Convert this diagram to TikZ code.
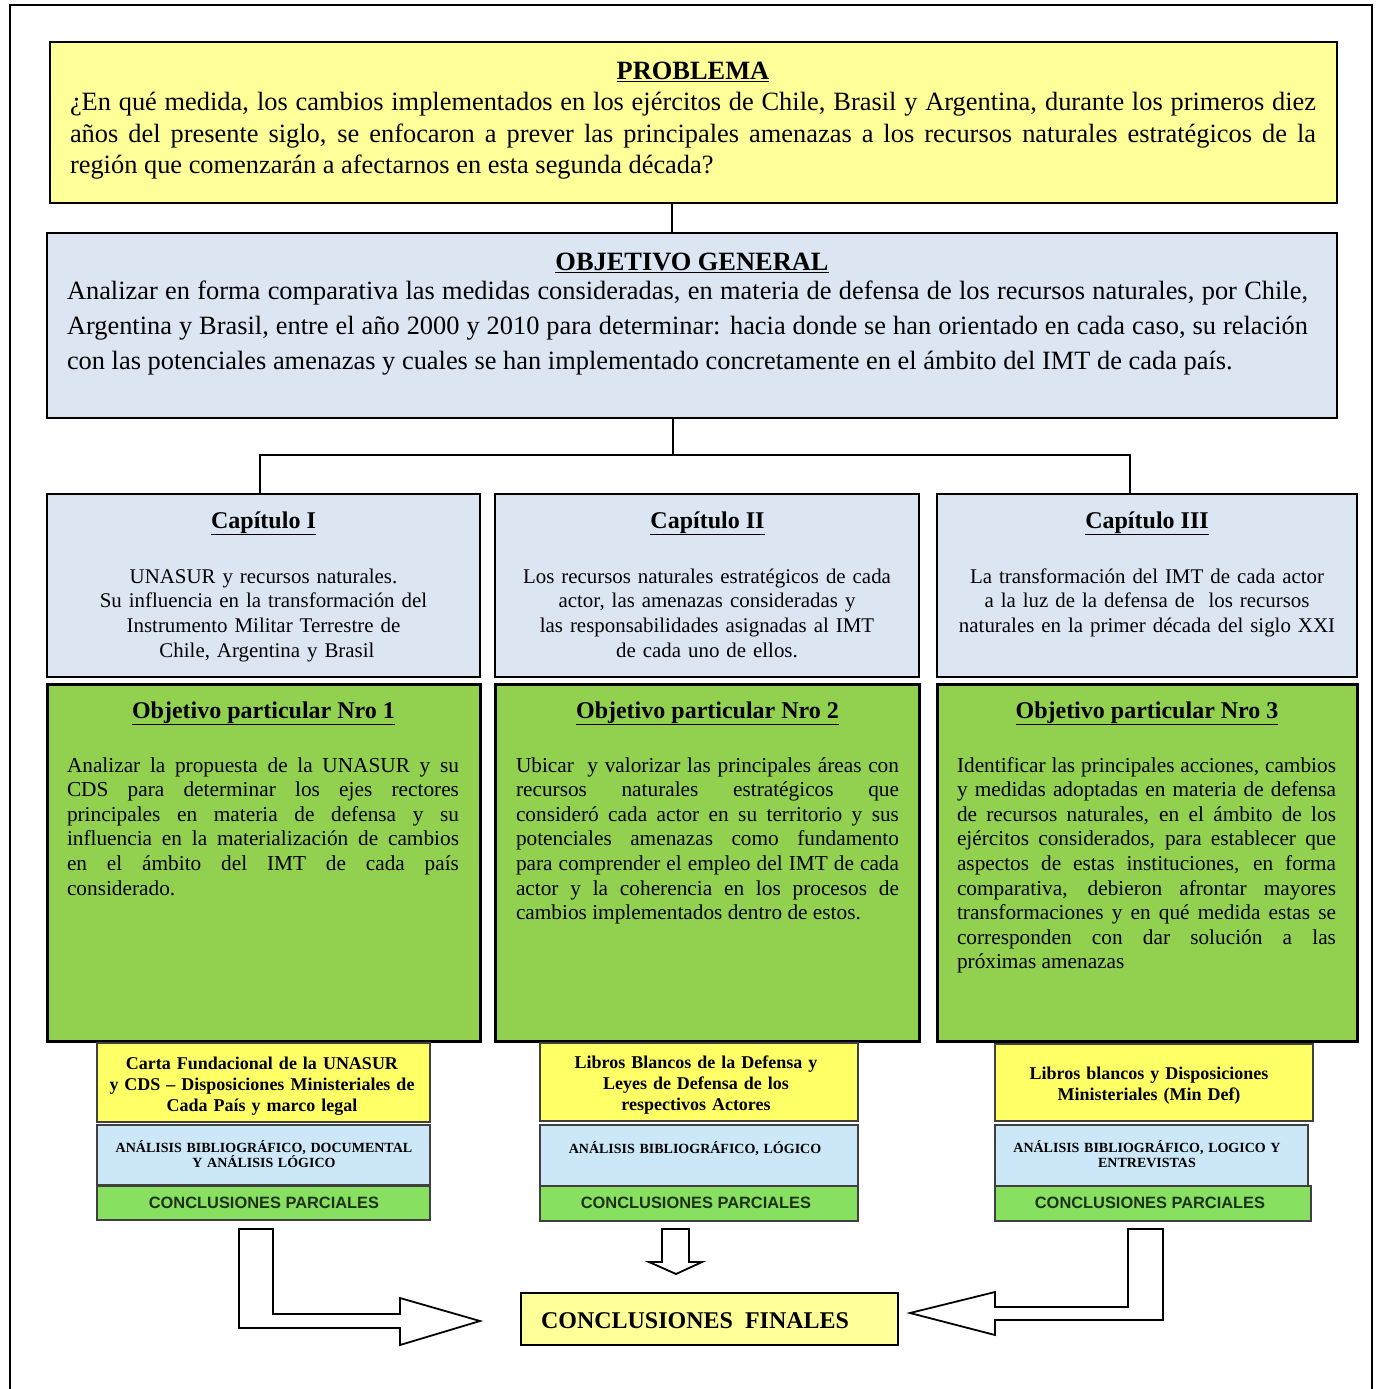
\documentclass[tikz,border=0pt]{standalone}
\usepackage{fontspec}
\setmainfont{Liberation Serif}
\newfontfamily\sansb{Liberation Sans}
\setlength{\parindent}{0pt}
\tolerance=10000
\hbadness=10000
\hfuzz=20pt
\definecolor{probY}{HTML}{FFFF99}
\definecolor{capB}{HTML}{DCE6F2}
\definecolor{objG}{HTML}{92D050}
\definecolor{smY}{HTML}{FFFF66}
\definecolor{smB}{HTML}{CCE8F8}
\definecolor{smG}{HTML}{88E060}
\definecolor{smEdge}{HTML}{404040}
\definecolor{cpText}{HTML}{1E321A}
\newcommand\mkbox[6]{\node[#6, minimum width={#4-#2}, minimum height={#5-#3}] (#1) at ({(#2+#4)/2},{(#3+#5)/2}) {};}
\begin{document}
\begin{tikzpicture}[x=1pt,y=-1pt,
  bigbox/.style={draw=black,line width=2pt,inner sep=0pt,outer sep=0pt},
  grbox/.style={draw=black,line width=3pt,fill=objG,inner sep=0pt,outer sep=0pt},
  smbox/.style={draw=smEdge,line width=1.5pt,inner sep=0pt,outer sep=0pt},
  tx/.style={inner sep=0pt,outer sep=0pt},
  conn/.style={draw=black,line width=2pt},
  barrow/.style={draw=black,line width=1.8pt,fill=white,line join=miter},
  bigtitle/.style={tx,anchor=base,font=\bfseries\fontsize{26.4}{32}\selectfont},
  captitle/.style={tx,anchor=base,font=\bfseries\fontsize{24}{28}\selectfont},
  capbody/.style={tx,anchor=base,text width=420,align=center,font=\fontsize{20.9}{24.8}\selectfont},
  objbody/.style={tx,anchor=base west,align=justify,font=\fontsize{21.3}{24.6}\selectfont},
  yltext/.style={tx,anchor=base,text width=330,align=center,font=\bfseries\fontsize{18}{21}\selectfont},
  bltext/.style={tx,anchor=base,text width=330,align=center,font=\bfseries\fontsize{14}{15.5}\selectfont},
  grtext/.style={tx,anchor=base,text=cpText,font=\sansb\bfseries\fontsize{16.4}{18}\selectfont}
]
\useasboundingbox (0,0) rectangle (1377,1389);
% outer frame
\draw[line width=2pt] (10,1389) -- (10,5) -- (1372,5) -- (1372,1389);

% PROBLEMA
\mkbox{prob}{50}{42}{1337}{203}{bigbox,fill=probY}
\node[bigtitle] (probT) at (693,80) {\underline{PROBLEMA}};
\node[tx,anchor=base west,text width=1246,align=justify,font=\fontsize{26.4}{31.7}\selectfont] (probB) at (70,110.5)
 {¿En qué medida, los cambios implementados en los ejércitos de Chile, Brasil y Argentina, durante los primeros diez\linebreak
  años del presente siglo, se enfocaron a prever las principales amenazas a los recursos naturales estratégicos de la\linebreak
  región que comenzarán a afectarnos en esta segunda década?};

% OBJETIVO GENERAL
\mkbox{objg}{47}{233}{1337}{418}{bigbox,fill=capB}
\node[bigtitle] (objgT) at (692,270) {\underline{OBJETIVO GENERAL}};
\node[tx,anchor=base west,text width=1241,align=justify,font=\fontsize{26.4}{35}\selectfont] (objgB) at (67,299)
 {Analizar en forma comparativa las medidas consideradas, en materia de defensa de los recursos naturales, por Chile,\linebreak
  Argentina y Brasil, entre el año 2000 y 2010 para determinar: hacia donde se han orientado en cada caso, su relación\linebreak
  con las potenciales amenazas y cuales se han implementado concretamente en el ámbito del IMT de cada país.};

% Chapters
\mkbox{cap1}{47}{494}{480}{677}{bigbox,fill=capB}
\mkbox{cap2}{495}{494}{919}{677}{bigbox,fill=capB}
\mkbox{cap3}{937}{494}{1357}{677}{bigbox,fill=capB}
\node[captitle] (cap1T) at (263.5,528) {\underline{Capítulo I}};
\node[captitle] (cap2T) at (707.5,528) {\underline{Capítulo II}};
\node[captitle] (cap3T) at (1147,528) {\underline{Capítulo III}};
\node[capbody] (cap1B) at (263.5,583) {UNASUR y recursos naturales.\\ Su influencia en la transformación del\\ Instrumento Militar Terrestre de\\ \ Chile, Argentina y Brasil};
\node[capbody] (cap2B) at (707,583) {Los recursos naturales estratégicos de cada\\ actor, las amenazas consideradas y\\ las responsabilidades asignadas al IMT\\ de cada uno de ellos.};
\node[capbody] (cap3B) at (1147,583) {La transformación del IMT de cada actor\\ a la luz de la defensa de\ \ los recursos\\ naturales en la primer década del siglo XXI};

% connectors
\draw[conn] (672,0 |- prob.south) -- (672,0 |- objg.north);
\draw[conn] (673,0 |- objg.south) -- (673,455);
\draw[conn] (260,0 |- cap1.north) -- (260,455) -- (1130,455) -- (1130,0 |- cap3.north);

% Objetivos particulares
\mkbox{obj1}{47}{684}{480}{1041}{grbox}
\mkbox{obj2}{495}{684}{919}{1041}{grbox}
\mkbox{obj3}{937}{684}{1357}{1041}{grbox}
\node[captitle] (obj1T) at (263.5,718) {\underline{Objetivo particular Nro 1}};
\node[captitle] (obj2T) at (707.5,718) {\underline{Objetivo particular Nro 2}};
\node[captitle] (obj3T) at (1147,718) {\underline{Objetivo particular Nro 3}};
\node[objbody,text width=392] (obj1B) at (67,772)
 {Analizar la propuesta de la UNASUR y su\linebreak
  CDS para determinar los ejes rectores\linebreak
  principales en materia de defensa y su\linebreak
  influencia en la materialización de cambios\linebreak
  en el ámbito del IMT de cada país\linebreak
  considerado.};
\node[objbody,text width=383] (obj2B) at (516,772)
 {Ubicar\ \ y valorizar las principales áreas con\linebreak
  recursos naturales estratégicos que\linebreak
  consideró cada actor en su territorio y sus\linebreak
  potenciales amenazas como fundamento\linebreak
  para comprender el empleo del IMT de cada\linebreak
  actor y la coherencia en los procesos de\linebreak
  cambios implementados dentro de estos.};
\node[objbody,text width=379] (obj3B) at (957,772)
 {Identificar las principales acciones, cambios\linebreak
  y medidas adoptadas en materia de defensa\linebreak
  de recursos naturales, en el ámbito de los\linebreak
  ejércitos considerados, para establecer que\linebreak
  aspectos de estas instituciones, en forma\linebreak
  comparativa, debieron afrontar mayores\linebreak
  transformaciones y en qué medida estas se\linebreak
  corresponden con dar solución a las\linebreak
  próximas amenazas};

% small boxes column 1
\mkbox{y1}{97}{1043}{430}{1122}{smbox,fill=smY}
\mkbox{b1}{97}{1125}{430}{1185}{smbox,fill=smB}
\mkbox{g1}{97}{1186}{430}{1220}{smbox,fill=smG}
\node[yltext] (y1T) at (262,1069) {Carta Fundacional de la UNASUR\\ y CDS – Disposiciones Ministeriales de\\ Cada País y marco legal};
\node[bltext] (b1T) at (264,1152) {ANÁLISIS BIBLIOGRÁFICO, DOCUMENTAL\\ Y ANÁLISIS LÓGICO};
\node[grtext] (g1T) at (264,1208) {CONCLUSIONES PARCIALES};

% column 2
\mkbox{y2}{540}{1043}{858}{1121}{smbox,fill=smY}
\mkbox{b2}{540}{1125}{858}{1186}{smbox,fill=smB}
\mkbox{g2}{540}{1186}{858}{1221}{smbox,fill=smG}
\node[yltext] (y2T) at (696,1068) {Libros Blancos de la Defensa y\\ Leyes de Defensa de los\\ respectivos Actores};
\node[bltext] (b2T) at (695,1153) {ANÁLISIS BIBLIOGRÁFICO, LÓGICO};
\node[grtext] (g2T) at (696,1208) {CONCLUSIONES PARCIALES};

% column 3
\mkbox{y3}{995}{1044}{1313}{1121}{smbox,fill=smY}
\mkbox{b3}{995}{1125}{1308}{1186}{smbox,fill=smB}
\mkbox{g3}{995}{1186}{1311}{1221}{smbox,fill=smG}
\node[yltext] (y3T) at (1149,1079) {Libros blancos y Disposiciones\\ Ministeriales (Min Def)};
\node[bltext] (b3T) at (1147,1152) {ANÁLISIS BIBLIOGRÁFICO, LOGICO Y\\ ENTREVISTAS};
\node[grtext] (g3T) at (1150,1208) {CONCLUSIONES PARCIALES};

% final box
\mkbox{fin}{521}{1293}{898}{1345}{bigbox,fill=probY}
\node[tx,anchor=base west,font=\bfseries\fontsize{24}{28}\selectfont] (finT) at (541,1328) {CONCLUSIONES\ \ FINALES};

% block arrows
\draw[barrow] (239,1229) -- (273,1229) -- (273,1314) -- (400,1314) -- (400,1298) -- (480,1321) -- (400,1345) -- (400,1328) -- (239,1328) -- cycle;
\draw[barrow] (662,1229) -- (689,1229) -- (689,1262) -- (702,1262) -- (676,1274) -- (649,1262) -- (662,1262) -- cycle;
\draw[barrow] (1163,1229) -- (1128,1229) -- (1128,1307) -- (995,1307) -- (995,1292) -- (910,1313) -- (995,1335) -- (995,1320) -- (1163,1320) -- cycle;
\end{tikzpicture}
\end{document}
